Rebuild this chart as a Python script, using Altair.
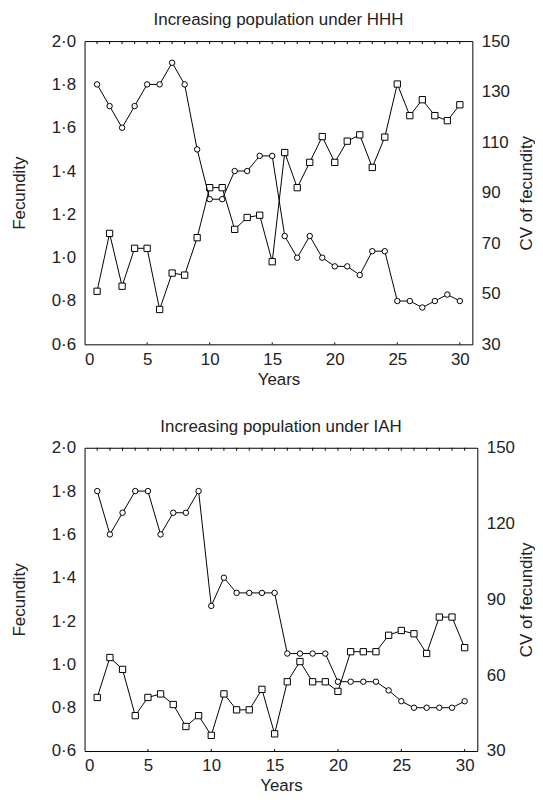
import altair as alt
import pandas as pd

years = list(range(1, 31))

hhh_fec = [1.80, 1.70, 1.60, 1.70, 1.80, 1.80, 1.90, 1.80, 1.50, 1.27,
           1.27, 1.40, 1.40, 1.47, 1.47, 1.10, 1.00, 1.10, 1.00, 0.96,
           0.96, 0.92, 1.03, 1.03, 0.80, 0.80, 0.77, 0.80, 0.83, 0.80]
hhh_cv = [51.0, 73.9, 53.0, 68.0, 68.0, 43.8, 58.2, 57.4, 72.2, 92.0,
          92.0, 75.5, 80.2, 81.1, 62.7, 105.9, 92.0, 102.0, 112.2, 102.0,
          110.4, 112.9, 100.0, 112.0, 133.0, 120.5, 126.8, 120.5, 118.5, 124.8]

iah_fec = [1.80, 1.60, 1.70, 1.80, 1.80, 1.60, 1.70, 1.70, 1.80, 1.27,
           1.40, 1.33, 1.33, 1.33, 1.33, 1.05, 1.05, 1.05, 1.05, 0.92,
           0.92, 0.92, 0.92, 0.88, 0.83, 0.80, 0.80, 0.80, 0.80, 0.83]
iah_cv = [51.2, 67.0, 62.3, 44.0, 51.2, 52.6, 48.4, 39.7, 44.0, 36.2,
          52.6, 46.3, 46.3, 54.4, 36.8, 57.4, 65.4, 57.4, 57.4, 53.6,
          69.3, 69.3, 69.3, 75.8, 77.7, 76.4, 68.6, 83.0, 83.0, 70.9]

x_ticks = [0, 5, 10, 15, 20, 25, 30]
fec_ticks = [0.6, 0.8, 1.0, 1.2, 1.4, 1.6, 1.8, 2.0]
cv_ticks_hhh = [30, 50, 70, 90, 110, 130, 150]
cv_ticks_iah = [30, 60, 90, 120, 150]
minor_years = list(range(1, 31))
bottom_minor = [5, 10, 15, 20, 25, 30]

FONT = "Liberation Sans"
TXT = "#222222"
FS = 17


def axis_style(**kw):
    return alt.Axis(ticks=False, domain=False, grid=False,
                    labelFont=FONT, titleFont=FONT, labelFontSize=FS, titleFontSize=FS,
                    titleFontWeight="normal", labelColor=TXT, titleColor=TXT, **kw)


def panel(title, fec, cv, cv_ticks, width, height, right_pad):
    df = pd.DataFrame({"year": years, "fec": fec, "cv": cv})
    xenc = alt.X("year:Q", scale=alt.Scale(domain=[0, 31], nice=False, zero=False),
                 axis=axis_style(values=x_ticks, title="Years", labelPadding=7,
                                 titlePadding=4, format="d"))
    cv_line = alt.Chart(df).mark_line(
        color="black", strokeWidth=1,
        point=alt.OverlayMarkDef(shape="square", filled=True, fill="white",
                                 stroke="black", strokeWidth=1, size=40, opacity=1)
    ).encode(
        x=xenc,
        y=alt.Y("cv:Q", scale=alt.Scale(domain=[30, 150], nice=False, zero=False),
                axis=axis_style(orient="right", values=cv_ticks, title="CV of fecundity",
                                labelPadding=9, titlePadding=right_pad, titleAngle=270,
                                titleBaseline="top")),
    )
    fec_line = alt.Chart(df).mark_line(
        color="black", strokeWidth=1,
        point=alt.OverlayMarkDef(shape="circle", filled=True, fill="white",
                                 stroke="black", strokeWidth=1, size=30, opacity=1)
    ).encode(
        x=xenc,
        y=alt.Y("fec:Q", scale=alt.Scale(domain=[0.6, 2.0], nice=False, zero=False),
                axis=axis_style(orient="left", values=fec_ticks, title="Fecundity",
                                labelPadding=9, titlePadding=23,
                                labelExpr="replace(format(datum.value, '.1f'), '.', '·')")),
    )
    top_ticks = alt.Chart(pd.DataFrame({"year": minor_years})).mark_rule(
        color="black", strokeWidth=1
    ).encode(x=alt.X("year:Q"), y=alt.value(0), y2=alt.value(3))
    bot_ticks = alt.Chart(pd.DataFrame({"year": bottom_minor})).mark_rule(
        color="black", strokeWidth=1
    ).encode(x=alt.X("year:Q"), y=alt.value(height), y2=alt.value(height - 2))
    return alt.layer(cv_line, fec_line, top_ticks, bot_ticks).resolve_scale(
        y="independent"
    ).properties(
        width=width, height=height,
        title=alt.TitleParams(title, fontSize=FS, font=FONT, fontWeight="normal",
                              color=TXT, anchor="middle", offset=3),
    )


top = panel("Increasing population under HHH", hhh_fec, hhh_cv, cv_ticks_hhh, 390, 305, 9)
bottom = panel("Increasing population under IAH", iah_fec, iah_cv, cv_ticks_iah, 395, 305, 4)

chart = alt.vconcat(
    top, bottom, spacing=29, background="white",
    padding={"left": 1, "top": 0, "right": 0, "bottom": 5},
).configure_view(
    stroke="black", strokeWidth=1
)

chart.save("out.html", embed_options={"renderer": "svg", "actions": False})
